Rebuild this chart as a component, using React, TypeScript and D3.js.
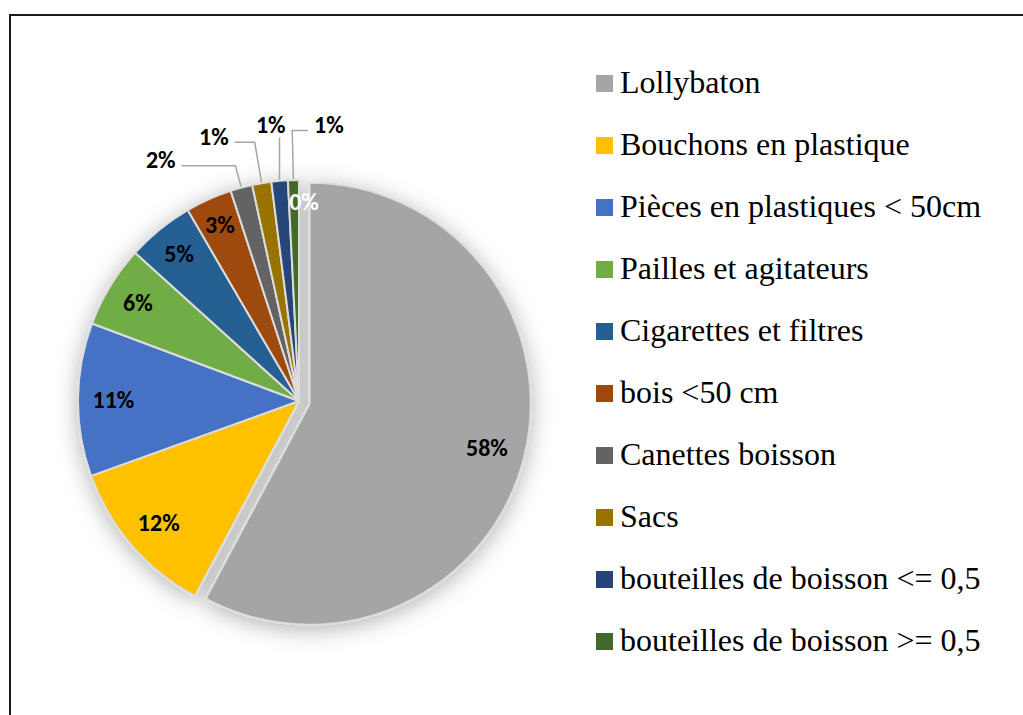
import React from "react";
import * as d3 from "d3";

const categories = [
  "Lollybaton",
  "Bouchons en plastique",
  "Pièces en plastiques < 50cm",
  "Pailles et agitateurs",
  "Cigarettes et filtres",
  "bois <50 cm",
  "Canettes boisson",
  "Sacs",
  "bouteilles de boisson <= 0,5",
  "bouteilles de boisson >= 0,5",
];
const values = [57.8, 11.7, 11.2, 6.0, 4.9, 3.4, 1.6, 1.4, 1.2, 0.8];
// trailing zero-valued entry (label "0%" shown, no legend entry)
const hiddenValues = [0];
const colors = [
  "#A5A5A5",
  "#FFC000",
  "#4472C4",
  "#70AD47",
  "#255E91",
  "#9E480E",
  "#636363",
  "#997300",
  "#264478",
  "#43682B",
  "#A5A5A5",
];

const W = 1023;
const H = 715;
const CX = 299;
const CY = 401;
const R = 221;
const EXPLODE = 11;
const OUT_R = 278;
const GAP_DEG = 12;
const SHIFT_DEG = -4;

export default function App() {
  const allValues = [...values, ...hiddenValues];
  const total = d3.sum(allValues);
  const pie = d3
    .pie<number>()
    .sort(null)
    .value((d) => d)
    .startAngle(0)
    .endAngle(2 * Math.PI);
  const arcs = pie(allValues);
  const arcGen = d3.arc<d3.PieArcDatum<number>>().innerRadius(0).outerRadius(R);

  const pct = (v: number) => `${Math.round((v / total) * 100)}%`;
  const mid = (a: d3.PieArcDatum<number>) => (a.startAngle + a.endAngle) / 2;

  const offsets = arcs.map((a, i) => {
    if (i !== 0) return [0, 0];
    const m = mid(a);
    return [Math.sin(m) * EXPLODE, -Math.cos(m) * EXPLODE];
  });

  // outside labels: small slices (between 0.5% and 2%)
  const outsideIdx = arcs
    .map((a, i) => i)
    .filter((i) => allValues[i] > 0 && allValues[i] / total < 0.02);
  const desired = outsideIdx.map((i) => {
    let deg = (mid(arcs[i]) * 180) / Math.PI;
    if (deg > 180) deg -= 360;
    return deg;
  });
  const meanDeg = d3.mean(desired) as number;
  const n = desired.length;
  const laid = desired.map(
    (_, k) => meanDeg + (k - (n - 1) / 2) * GAP_DEG + SHIFT_DEG
  );

  const outsideLabels = outsideIdx.map((i, k) => {
    const th = (laid[k] * Math.PI) / 180;
    const lx = CX + Math.sin(th) * OUT_R;
    const ly = CY - Math.cos(th) * OUT_R;
    const m = mid(arcs[i]);
    const ex = CX + Math.sin(m) * (R + 1);
    const ey = CY - Math.cos(m) * (R + 1);
    let pts: [number, number][];
    if (Math.abs(lx - ex) < 12) {
      pts = [
        [ex, ey],
        [ex, ly + 13],
      ];
    } else {
      const ax = lx < ex ? lx + 21 : lx - 21;
      const ay = ly + 6;
      const dy = ay - ey;
      pts = [
        [ex, ey],
        [ex + (Math.sin(m) * dy) / -Math.cos(m), ay],
        [ax, ay],
      ];
    }
    return { i, lx, ly, pts };
  });

  const labelStyle = { fontFamily: '"Carlito"', fontSize: "24px", fontWeight: 700 };
  const serifStyle = { fontFamily: '"Liberation Serif"', fontSize: "32px" };

  return (
    <svg
      width={W}
      height={H}
      style={{ position: "fixed", left: 0, top: 0, background: "#fff" }}
    >
      <defs>
        <filter id="shadow" x="-30%" y="-30%" width="160%" height="160%">
          <feDropShadow
            dx="0"
            dy="4"
            stdDeviation="11"
            floodColor="#000"
            floodOpacity="0.3"
          />
        </filter>
      </defs>
      <rect x={0} y={0} width={W} height={H} fill="#fff" />
      <path
        d={`M10 ${H + 2} V15 H${W + 2}`}
        fill="none"
        stroke="#1a1a1a"
        strokeWidth={2}
      />

      <g filter="url(#shadow)">
        {arcs.map((a, i) =>
          allValues[i] > 0 ? (
            <path
              key={i}
              d={arcGen(a) as string}
              transform={`translate(${CX + offsets[i][0]},${CY + offsets[i][1]})`}
              fill={colors[i]}
              stroke="#dcdcdc"
              strokeWidth={2}
              strokeLinejoin="round"
            />
          ) : null
        )}
      </g>

      {/* inside labels */}
      {arcs.map((a, i) => {
        if (outsideIdx.includes(i)) return null;
        const zero = allValues[i] === 0;
        const p = (allValues[i] / total) * 100;
        const lr = zero ? 200 : 182 + 40 / p;
        const m = mid(a);
        const x = Math.sin(m) * lr;
        const y = -Math.cos(m) * lr;
        return (
          <text
            key={`l${i}`}
            x={CX + offsets[i][0] + x + (zero ? 5 : 0)}
            y={CY + offsets[i][1] + y}
            textAnchor="middle"
            dominantBaseline="central"
            style={labelStyle}
            fill={zero ? "#fff" : "#000"}
          >
            {pct(allValues[i])}
          </text>
        );
      })}

      {/* outside labels with leader lines */}
      {outsideLabels.map((o) => (
        <g key={`o${o.i}`}>
          <polyline
            points={o.pts.map((p) => p.join(",")).join(" ")}
            fill="none"
            stroke="#a6a6a6"
            strokeWidth={1.5}
          />
          <text
            x={o.lx}
            y={o.ly}
            textAnchor="middle"
            dominantBaseline="central"
            style={labelStyle}
            fill="#000"
          >
            {pct(allValues[o.i])}
          </text>
        </g>
      ))}

      {/* legend */}
      {categories.map((c, i) => {
        const y = 83.5 + i * 62;
        return (
          <g key={`lg${i}`}>
            <rect x={596} y={y - 8.5} width={17} height={17} fill={colors[i]} />
            <text x={620} y={y + 9.5} style={serifStyle} fill="#000">
              {c}
            </text>
          </g>
        );
      })}
    </svg>
  );
}
